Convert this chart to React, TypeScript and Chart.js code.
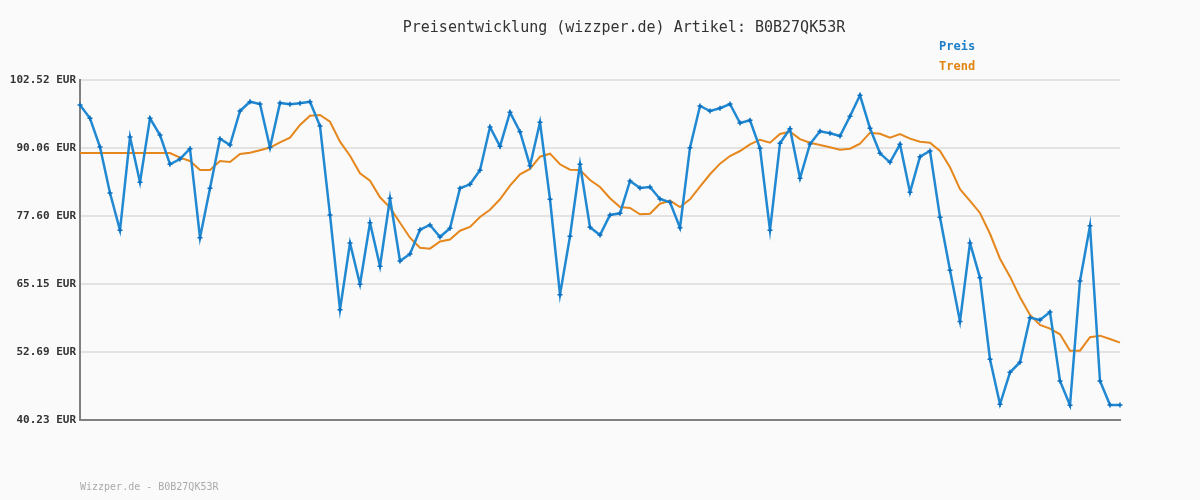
import React, { useEffect, useRef } from "react";
import { Chart, registerables } from "chart.js";

Chart.register(...registerables);

const titleText = "Preisentwicklung (wizzper.de) Artikel: B0B27QK53R";
const footerText = "Wizzper.de - B0B27QK53R";
const legendLabels = ["Preis", "Trend"];
const yTicks = [40.23, 52.69, 65.15, 77.6, 90.06, 102.52];

const priceValues = [
  97.94, 95.5, 90.25, 81.82, 74.99, 92.08, 83.78, 95.5, 92.44, 87.08,
  88.05, 89.93, 73.63, 82.68, 91.77, 90.61, 96.84, 98.54, 98.12, 90.15,
  98.31, 98.07, 98.25, 98.54, 94.09, 77.79, 60.44, 72.66, 65.09, 76.38,
  68.39, 80.85, 69.36, 70.65, 75.1, 75.96, 73.76, 75.35, 82.68, 83.41,
  85.98, 93.91, 90.37, 96.6, 93.05, 86.82, 94.77, 80.67, 63.19, 73.89,
  87.08, 75.54, 74.13, 77.79, 78.1, 84.02, 82.74, 82.92, 80.72, 80.12,
  75.46, 90.12, 97.76, 96.84, 97.34, 98.12, 94.64, 95.14, 90.01, 74.99,
  90.92, 93.6, 84.51, 90.8, 93.12, 92.76, 92.26, 95.87, 99.72, 93.67,
  89.09, 87.44, 90.74, 81.95, 88.47, 89.51, 77.39, 67.68, 58.28, 72.66,
  66.28, 51.36, 43.11, 48.97, 50.81, 58.98, 58.55, 60.02, 47.38, 42.93,
  65.7, 75.83, 47.38, 42.98, 42.98,
];

const trendValues = [
  89.15, 89.15, 89.15, 89.15, 89.15, 89.15, 89.15, 89.15, 89.15, 89.15,
  88.29, 87.68, 86.03, 86.03, 87.68, 87.5, 88.96, 89.2, 89.66, 90.15,
  91.11, 91.95, 94.28, 95.98, 96.11, 94.88, 91.22, 88.65, 85.43, 84.07,
  81.03, 79.13, 76.38, 73.63, 71.8, 71.62, 72.93, 73.3, 74.91, 75.59,
  77.42, 78.76, 80.67, 83.16, 85.25, 86.22, 88.47, 89.02, 87.08, 86.09,
  86.03, 84.2, 82.92, 80.85, 79.25, 79.07, 77.92, 78.03, 79.86, 80.41,
  79.25, 80.67, 82.97, 85.25, 87.19, 88.6, 89.51, 90.74, 91.58, 91.03,
  92.63, 93.05, 91.68, 91.02, 90.61, 90.19, 89.75, 89.93, 90.85, 92.87,
  92.68, 91.95, 92.63, 91.77, 91.22, 91.03, 89.51, 86.53, 82.5, 80.39,
  78.16, 74.35, 69.78, 66.49, 62.71, 59.47, 57.64, 56.96, 55.93, 52.93,
  52.93, 55.39, 55.68, 55.07, 54.4,
];

const categories = priceValues.map((_, i) => String(i + 1));

const MONO = '"DejaVu Sans Mono", "Liberation Mono", monospace';

const decorPlugin = {
  id: "decor",
  beforeDraw(chart: any) {
    const ctx = chart.ctx;
    ctx.save();
    ctx.fillStyle = "#fafafa";
    ctx.fillRect(0, 0, chart.width, chart.height);
    ctx.restore();
  },
  afterDraw(chart: any) {
    const ctx = chart.ctx;
    ctx.save();
    ctx.textBaseline = "middle";
    ctx.fillStyle = "#333333";
    ctx.font = `15px ${MONO}`;
    ctx.textAlign = "center";
    ctx.fillText(titleText, 624, 28);

    ctx.textAlign = "left";
    ctx.font = `bold 12px ${MONO}`;
    ctx.fillStyle = "#1a7fc8";
    ctx.fillText(legendLabels[0], 939, 47);
    ctx.fillStyle = "#e0840f";
    ctx.fillText(legendLabels[1], 939, 67);

    ctx.font = `10px ${MONO}`;
    ctx.fillStyle = "#aaaaaa";
    ctx.fillText(footerText, 80, 487);
    ctx.restore();
  },
};

export default function App() {
  const ref = useRef<HTMLCanvasElement | null>(null);

  useEffect(() => {
    if (!ref.current) return;
    const chart = new Chart(ref.current, {
      type: "line",
      data: {
        labels: categories,
        datasets: [
          {
            label: legendLabels[0],
            data: priceValues,
            borderColor: "#2188d2",
            borderWidth: 2.5,
            pointStyle: "cross",
            pointRadius: 2.5,
            pointBorderWidth: 1.5,
            pointBorderColor: "#0b70c0",
            pointBackgroundColor: "#0b70c0",
            tension: 0,
            order: 0,
          },
          {
            label: legendLabels[1],
            data: trendValues,
            borderColor: "#e5871c",
            borderWidth: 2,
            pointRadius: 0,
            tension: 0,
            order: 1,
          },
        ],
      },
      options: {
        responsive: false,
        animation: false,
        events: [],
        layout: { padding: { left: 0, right: 80, top: 80, bottom: 80 } },
        plugins: {
          legend: { display: false },
          title: { display: false },
          tooltip: { enabled: false },
        },
        scales: {
          x: {
            offset: false,
            grid: { display: false, drawTicks: false },
            ticks: { display: false },
            border: { display: true, color: "#808080", width: 2 },
            afterFit: (s: any) => {
              s.height = 0;
            },
          },
          y: {
            min: yTicks[0],
            max: yTicks[yTicks.length - 1],
            afterBuildTicks: (s: any) => {
              s.ticks = yTicks.map((v) => ({ value: v }));
            },
            afterFit: (s: any) => {
              s.width = 80;
            },
            grid: { color: "#e3e3e3", lineWidth: 2, drawTicks: false },
            border: { display: true, color: "#808080", width: 2 },
            ticks: {
              padding: 4,
              color: "#333333",
              font: { family: MONO, size: 11, weight: "bold" },
              callback: (v: any) => Number(v).toFixed(2) + " EUR",
            },
          },
        },
      },
      plugins: [decorPlugin],
    });
    return () => chart.destroy();
  }, []);

  return (
    <div
      style={{
        position: "fixed",
        left: 0,
        top: 0,
        width: 1200,
        height: 500,
        background: "#fafafa",
      }}
    >
      <canvas ref={ref} width={1200} height={500} style={{ display: "block" }} />
    </div>
  );
}
